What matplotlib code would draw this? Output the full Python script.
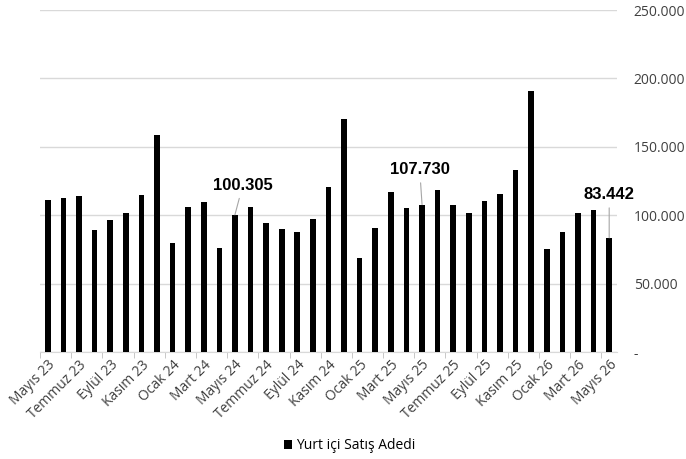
import matplotlib.pyplot as plt
import numpy as np

# Monthly domestic sales, Mayıs 23 .. Mayıs 26
months = ["Mayıs 23", "Haziran 23", "Temmuz 23", "Ağustos 23", "Eylül 23", "Ekim 23",
          "Kasım 23", "Aralık 23", "Ocak 24", "Şubat 24", "Mart 24", "Nisan 24",
          "Mayıs 24", "Haziran 24", "Temmuz 24", "Ağustos 24", "Eylül 24", "Ekim 24",
          "Kasım 24", "Aralık 24", "Ocak 25", "Şubat 25", "Mart 25", "Nisan 25",
          "Mayıs 25", "Haziran 25", "Temmuz 25", "Ağustos 25", "Eylül 25", "Ekim 25",
          "Kasım 25", "Aralık 25", "Ocak 26", "Şubat 26", "Mart 26", "Nisan 26",
          "Mayıs 26"]
sales = [111100, 112300, 114000, 89200, 96700, 101400, 115000, 158400, 79400, 106000,
         109900, 75800, 100305, 106200, 94100, 90100, 87700, 97000, 120900, 170100,
         68500, 90400, 116700, 105000, 107730, 118200, 107500, 101400, 110100, 115700,
         132800, 191000, 75100, 87700, 101800, 104000, 83442]

# labelled bars: index -> label offset in data units (dx, dy)
callouts = {12: (0.5, 16000), 24: (-0.15, 20000), 36: (0.0, 26000)}

plt.rcParams['font.family'] = ['Open Sans', 'DejaVu Sans']

fig = plt.figure(figsize=(6.86, 4.59), dpi=100)
ax = fig.add_axes([0.0583, 0.2331, 0.8411, 0.745])

x = np.arange(len(months))
ax.bar(x, sales, width=0.36, color='black', label='Yurt içi Satış Adedi', zorder=3)

ax.set_xlim(-0.5, len(months) - 0.5)
ax.set_ylim(0, 250000)

# y axis on the right, Turkish thousands separator
yt = np.arange(0, 250001, 50000)
ax.set_yticks(yt)
ax.set_yticklabels(['-' if v == 0 else f"{v:,}".replace(',', '.') for v in yt],
                   fontsize=10, color='#404040')
ax.yaxis.tick_right()
ax.tick_params(axis='y', length=0, pad=12)
ax.grid(axis='y', color='#d9d9d9', linewidth=1, zorder=0)

# x labels every second month, tick marks between groups
ax.set_xticks(x[::2])
ax.set_xticklabels(months[::2], rotation=45, ha='right', rotation_mode='anchor',
                   fontsize=10, color='#404040')
ax.tick_params(axis='x', length=0, pad=4)
ax.set_xticks(np.arange(-0.5, len(months), 2), minor=True)
ax.tick_params(axis='x', which='minor', length=4, color='#bfbfbf')

for s in ['top', 'left', 'right']:
    ax.spines[s].set_visible(False)
ax.spines['bottom'].set_color('#d9d9d9')

for i, (dx, dy) in callouts.items():
    v = sales[i]
    lbl = f"{v:,}".replace(',', '.')
    ax.annotate(lbl, xy=(i, v), xytext=(i + dx, v + dy), ha='center', va='bottom',
                fontsize=12, fontweight='bold', family=['Liberation Sans'],
                arrowprops=dict(arrowstyle='-', color='#a6a6a6', lw=0.8,
                                shrinkA=2, shrinkB=0))

fig.legend(loc='lower center', bbox_to_anchor=(0.51, -0.015), frameon=False,
           fontsize=10, handlelength=0.6, handleheight=0.6, handletextpad=0.3)

fig.savefig('out.png', dpi=100)
